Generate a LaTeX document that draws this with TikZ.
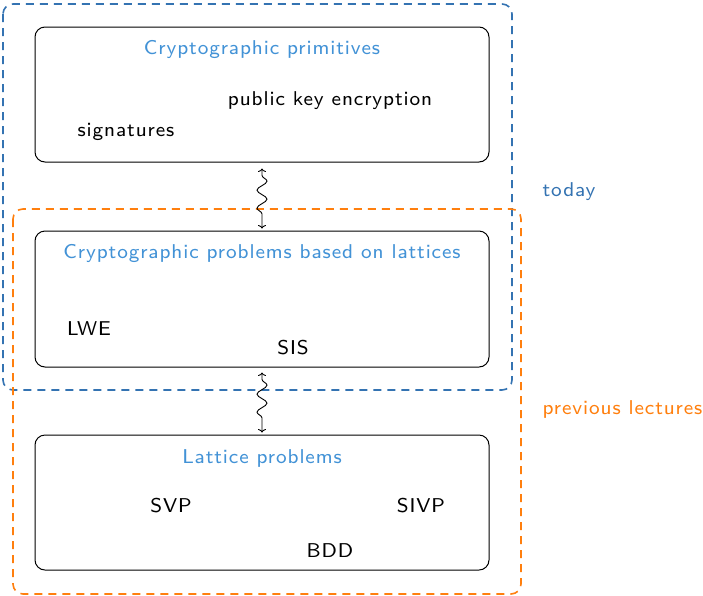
\documentclass[tikz,border=0pt]{standalone}
\usepackage{fontspec}
\newfontfamily\lmseight{lmsans8-regular.otf}[LetterSpace=4.5]
\usetikzlibrary{decorations.pathmorphing,arrows.meta}
\definecolor{dblue}{RGB}{52,115,178}
\definecolor{tblue}{RGB}{66,146,214}
\definecolor{dorange}{RGB}{255,127,14}
\begin{document}
\begin{tikzpicture}[x=1pt,y=-1pt,
  every node/.style={font=\lmseight\fontsize{20}{24}\selectfont, inner sep=0pt, anchor=center, yshift=-1.5pt},
  lbox/.style={draw=black, line width=1pt, rounded corners=10pt},
  bluedash/.style={draw=dblue, line width=1.6pt, dash pattern=on 8pt off 6pt, rounded corners=10pt},
  orangedash/.style={draw=dorange, line width=1.6pt, dash pattern=on 8pt off 6pt, rounded corners=10pt},
  ttl/.style={text=tblue},
  snk/.style={line width=0.9pt, {To[length=3.5pt,width=8pt]}-{To[length=3.5pt,width=8pt]}, decorate, decoration={snake, amplitude=5pt, segment length=18pt, pre length=7pt, post length=7pt}}
]
\useasboundingbox (0,0) rectangle (703,595);
\path[lbox] (35,27) rectangle (489,162);
\path[lbox] (35,231) rectangle (489,367);
\path[lbox] (35,435) rectangle (489,570);
\path[bluedash] (3,4) rectangle (512,390);
\path[orangedash] (13,209) rectangle (521,594);

\node[ttl] (t1) at (262,48) {Cryptographic primitives};
\node (pke) at (330,99) {public key encryption};
\node (sig) at (126,130) {signatures};
\node[ttl] (t2) at (262,252) {Cryptographic problems based on lattices};
\node (lwe) at (89,327) {LWE};
\node (sis) at (293,346) {SIS};
\node[ttl] (t3) at (262,457) {Lattice problems};
\node (svp) at (171,504) {SVP};
\node (sivp) at (421,504) {SIVP};
\node (bdd) at (330,549) {BDD};

\node[text=dblue] (today) at (569,190) {today};
\node[text=dorange] (prev) at (622.5,408) {previous lectures};

\coordinate (a1) at (262,167);
\coordinate (a2) at (262,227);
\coordinate (b1) at (262,371);
\coordinate (b2) at (262,431);
\draw[snk] (a1) -- (a2);
\draw[snk] (b1) -- (b2);
\end{tikzpicture}
\end{document}
